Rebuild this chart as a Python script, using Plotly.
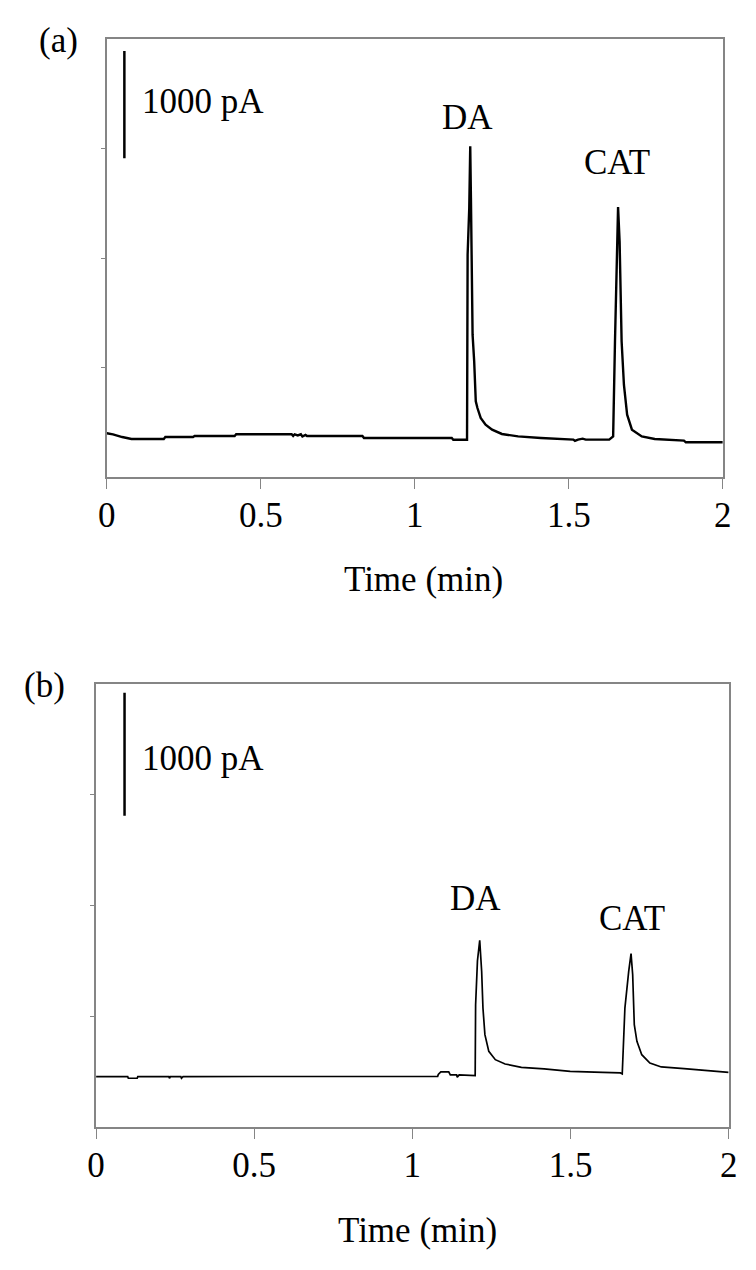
import plotly.graph_objects as go

# ---------------- data (units: 1000 pA per y unit, time in min) ----------------
time_a = [0, 0.02, 0.05, 0.08, 0.185, 0.19, 0.28, 0.285, 0.415, 0.42, 0.60, 0.605, 0.61,
          0.62, 0.63, 0.635, 0.645, 0.65, 0.83, 0.835, 1.12, 1.125, 1.1696, 1.1715,
          1.1768, 1.180, 1.1823, 1.1876, 1.1928, 1.198, 1.2034, 1.2139, 1.2298, 1.251,
          1.2827, 1.3354, 1.4095, 1.515, 1.52, 1.53, 1.545, 1.555, 1.6313, 1.644, 1.650,
          1.6556, 1.660, 1.665, 1.6715, 1.679, 1.6894, 1.705, 1.737, 1.779, 1.874, 1.88, 2.0]
current_a = [0.40, 0.39, 0.365, 0.347, 0.347, 0.365, 0.365, 0.374, 0.374, 0.39, 0.39, 0.375, 0.39,
             0.38, 0.39, 0.37, 0.385, 0.374, 0.374, 0.356, 0.356, 0.34, 0.34, 2.03,
             2.457, 3.02, 2.548, 1.30, 1.057, 0.691, 0.630, 0.539, 0.478, 0.432,
             0.393, 0.371, 0.356, 0.341, 0.33, 0.341, 0.35, 0.341, 0.341, 0.371, 1.239,
             2.0, 2.466, 2.15, 1.239, 0.843, 0.569, 0.432, 0.371, 0.347, 0.332, 0.317, 0.317]

time_b = [0, 0.10, 0.102, 0.13, 0.132, 0.23, 0.232, 0.235, 0.268, 0.27, 0.275, 1.08, 1.082,
          1.09, 1.115, 1.12, 1.14, 1.142, 1.148, 1.1986, 1.200, 1.2058, 1.2130, 1.2191,
          1.2232, 1.2294, 1.2417, 1.2623, 1.2932, 1.3447, 1.4167, 1.499, 1.602, 1.658,
          1.6636, 1.672, 1.684, 1.6914, 1.6966, 1.7017, 1.710, 1.7253, 1.751, 1.787,
          1.859, 1.931, 2.0]
current_b = [0.455, 0.455, 0.44, 0.44, 0.455, 0.455, 0.44, 0.455, 0.455, 0.44, 0.455, 0.458, 0.475,
             0.497, 0.497, 0.47, 0.47, 0.45, 0.47, 0.465, 1.104, 1.50, 1.686, 1.406,
             1.074, 0.834, 0.683, 0.608, 0.569, 0.539, 0.524, 0.503, 0.494, 0.488,
             0.479, 1.074, 1.406, 1.565, 1.375, 0.924, 0.774, 0.653, 0.578, 0.542,
             0.527, 0.509, 0.494]

x_ticks = [0, 0.5, 1, 1.5, 2]
x_tick_labels = ["0", "0.5", "1", "1.5", "2"]
y_ticks = [1, 2, 3]

peak_labels = ["DA", "CAT"]
peak_label_pos_a = [(1.17, 3.28), (1.658, 2.87)]
peak_label_pos_b = [(1.20, 2.06), (1.694, 1.887)]

scale_bar_a = (0.057, 2.91, 3.89)   # x, y0, y1 (data units)
scale_bar_b = (0.09, 2.81, 3.92)
scale_label = "1000 pA"

# ---------------- figure ----------------
W, H = 756, 1270
FONT = "Liberation Serif, Times New Roman, serif"
FS = 35
AXC = "#858585"


def px(x):
    return x / W


def py(y):
    return (H - y) / H


fig = go.Figure()
fig.add_trace(go.Scatter(x=time_a, y=current_a, mode="lines",
                         line=dict(color="black", width=2.4), xaxis="x", yaxis="y",
                         showlegend=False, hoverinfo="skip"))
fig.add_trace(go.Scatter(x=time_b, y=current_b, mode="lines",
                         line=dict(color="black", width=1.7), xaxis="x2", yaxis="y2",
                         showlegend=False, hoverinfo="skip"))

xcommon = dict(range=[0, 2], tickvals=x_ticks, ticktext=x_tick_labels, ticks="outside",
               ticklen=10, tickwidth=1.2, tickcolor=AXC, showline=True, linecolor=AXC,
               linewidth=1.6, mirror=True, showgrid=False, zeroline=False,
               tickfont=dict(family=FONT, size=FS, color="black"), ticklabelstandoff=-4)
ycommon = dict(range=[0, 4], tickvals=y_ticks, ticks="outside", ticklen=4, tickwidth=1,
               tickcolor=AXC, showticklabels=False, showline=True, linecolor=AXC,
               linewidth=1.6, mirror=True, showgrid=False, zeroline=False)

fig.update_layout(
    width=W, height=H, margin=dict(l=0, r=0, t=0, b=0),
    paper_bgcolor="white", plot_bgcolor="white",
    xaxis=dict(domain=[px(92), px(723)], anchor="y", **xcommon),
    yaxis=dict(domain=[py(469), py(31)], anchor="x", **ycommon),
    xaxis2=dict(domain=[px(81), px(729)], anchor="y2", **xcommon),
    yaxis2=dict(domain=[py(1119), py(676)], anchor="x2", **ycommon),
    font=dict(family=FONT, size=FS, color="black"),
)

annotations = []
shapes = []
for (xr, yr, pos, bar, title_xy, tag, tag_xy, label_y) in [
    ("x", "y", peak_label_pos_a, scale_bar_a, (416, 571), "(a)", (42, 32), 93),
    ("x2", "y2", peak_label_pos_b, scale_bar_b, (410, 1222), "(b)", (28, 677), 750),
]:
    for name, (lx, ly) in zip(peak_labels, pos):
        annotations.append(dict(x=lx, y=ly, xref=xr, yref=yr, text=name, showarrow=False,
                                font=dict(family=FONT, size=FS, color="black"),
                                xanchor="center", yanchor="middle"))
    shapes.append(dict(type="line", xref=xr, yref=yr, x0=bar[0], x1=bar[0], y0=bar[1], y1=bar[2],
                       line=dict(color="black", width=2.5)))
    annotations.append(dict(x=px(126), y=py(label_y), xref="paper",
                            yref="paper", text=scale_label, showarrow=False,
                            font=dict(family=FONT, size=FS, color="black"),
                            xanchor="left", yanchor="middle"))
    annotations.append(dict(x=px(title_xy[0]), y=py(title_xy[1]), xref="paper", yref="paper",
                            text="Time (min)", showarrow=False,
                            font=dict(family=FONT, size=FS, color="black"),
                            xanchor="center", yanchor="middle"))
    annotations.append(dict(x=px(tag_xy[0]), y=py(tag_xy[1]), xref="paper", yref="paper",
                            text=tag, showarrow=False,
                            font=dict(family=FONT, size=FS, color="black"),
                            xanchor="center", yanchor="middle"))

fig.update_layout(annotations=annotations, shapes=shapes)
fig.write_html("out.html")
